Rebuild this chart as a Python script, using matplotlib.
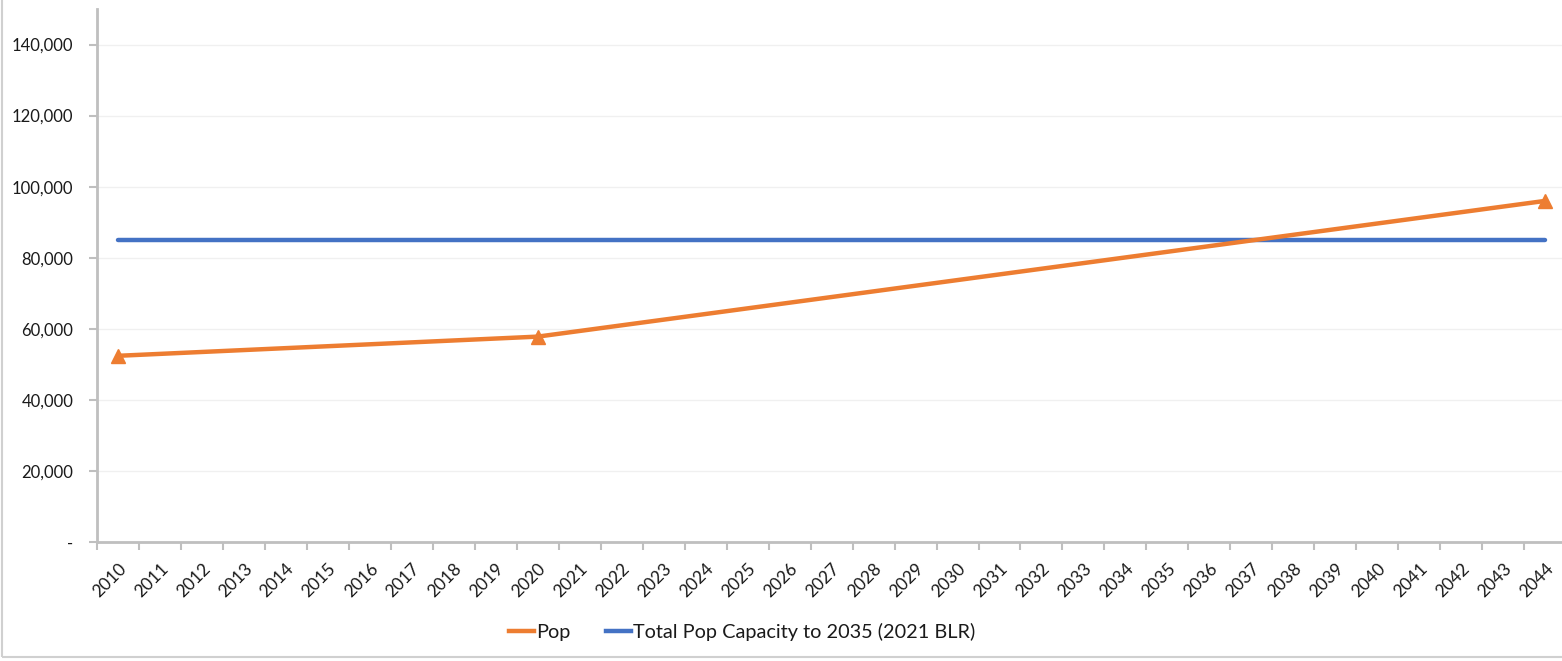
import matplotlib.pyplot as plt
import matplotlib.ticker as mticker
from matplotlib.lines import Line2D
from matplotlib.patches import Rectangle

# categories on the x axis
years = [str(y) for y in range(2010, 2045)]

# Pop series (only the marked years carry values)
pop_years = ['2010', '2020', '2044']
pop_values = [52400, 57800, 96000]

# capacity line
cap_value = 85000

y_ticks = [0, 20000, 40000, 60000, 80000, 100000, 120000, 140000]

orange = '#ED7D31'
blue = '#4472C4'

plt.rcParams['font.family'] = ['Lato', 'DejaVu Sans']

fig = plt.figure(figsize=(15.62, 6.61), dpi=100)
ax = fig.add_axes([97 / 1562, 1 - 542 / 661, 1 - 97 / 1562, (542 - 9) / 661])

x_pop = [years.index(y) for y in pop_years]
ax.plot(x_pop, pop_values, color=orange, lw=3.2, marker='^', ms=10,
        zorder=3, solid_capstyle='round')
ax.plot([0, len(years) - 1], [cap_value, cap_value], color=blue, lw=3.2,
        zorder=2, solid_capstyle='round')

ax.set_ylim(0, 150000)
ax.set_yticks(y_ticks)
ax.yaxis.set_major_formatter(mticker.FuncFormatter(
    lambda v, p: '-' if v == 0 else f'{int(v):,}'))
ax.grid(axis='y', color='#F0F0F0', lw=1)
ax.set_axisbelow(True)

ax.set_xlim(-0.5, 34.4)
ax.set_xticks(range(len(years)))
ax.set_xticklabels(years, rotation=45, ha='right', rotation_mode='anchor')
ax.set_xticks([i - 0.5 for i in range(len(years))], minor=True)
ax.tick_params(axis='x', which='major', length=0, pad=13, labelsize=12.5,
               labelcolor='#1a1a1a')
ax.tick_params(axis='x', which='minor', length=6, width=1.5, color='#BFBFBF')
ax.tick_params(axis='y', length=6, width=1.5, color='#BFBFBF', pad=11,
               labelsize=12, labelcolor='#1a1a1a')

for s in ['top', 'right']:
    ax.spines[s].set_visible(False)
for s in ['left', 'bottom']:
    ax.spines[s].set_color('#BFBFBF')
    ax.spines[s].set_linewidth(2)

handles = [Line2D([], [], color=orange, lw=3.2),
           Line2D([], [], color=blue, lw=3.2)]
labels = ['Pop', 'Total Pop Capacity to 2035 (2021 BLR)']
fig.legend(handles, labels, loc='center', bbox_to_anchor=(742 / 1562, 0.044),
           ncol=2, frameon=False, fontsize=14.3, handlelength=1.25,
           handletextpad=0.1, columnspacing=1.8, labelcolor='#1a1a1a')

# chart border
fig.add_artist(Rectangle((0.001, 0.006), 1.2, 1.2, transform=fig.transFigure,
                         fill=False, edgecolor='#D0D0D0', lw=1.5))

fig.savefig('out.png', dpi=100)
